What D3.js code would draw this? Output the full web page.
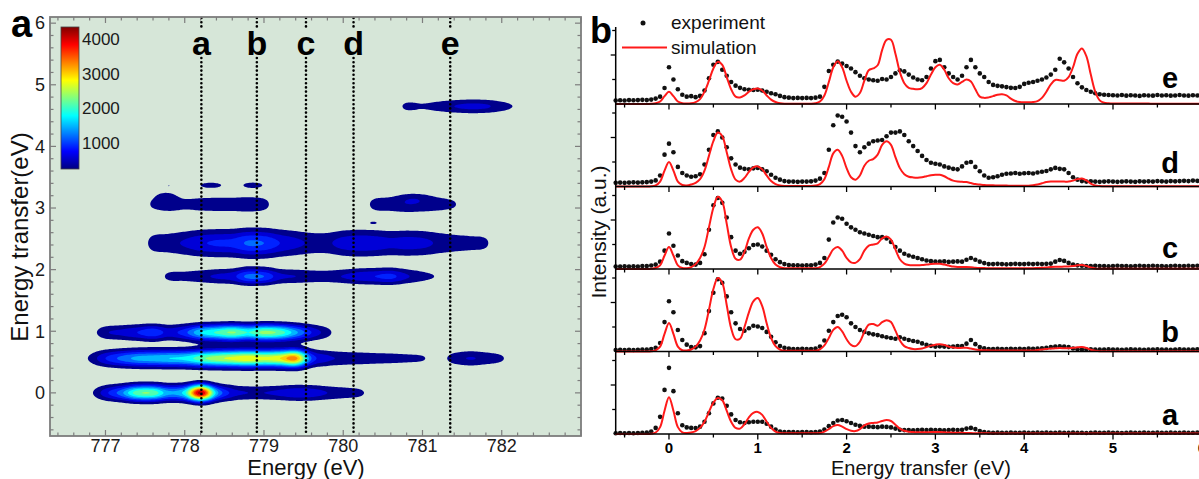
<!DOCTYPE html>
<html>
<head>
<meta charset="utf-8">
<script src="https://cdn.jsdelivr.net/npm/d3@7"></script>
<style>
  body { margin: 0; background: #fff; }
  svg text { font-family: Arial, "Liberation Sans", sans-serif; }
</style>
</head>
<body>
<svg id="chart" width="1199" height="479"></svg>
<script>
// ---------------- (a) RIXS intensity map ----------------
const mapEnergyRange = [776.3, 783.0];
const mapTransferRange = [-0.7, 6.1];
const mapEnergyTicks = [777, 778, 779, 780, 781, 782];
const mapTransferTicks = [0, 1, 2, 3, 4, 5, 6];
const colorRange = [250, 4350];
const colorbarTicks = [1000, 2000, 3000, 4000];
const contourLevels = [300, 600, 900, 1200, 1500, 1800, 2100, 2400, 2700, 3000, 3300, 3600, 3900, 4200];
const cutEnergies = [778.21, 778.91, 779.53, 780.13, 781.35];
const cutNames = ["a", "b", "c", "d", "e"];

// Incident energies at which each loss band's intensity is tabulated
const profileEnergies = [776.6, 776.8, 777.0, 777.2, 777.4, 777.6, 777.8, 778.0, 778.2, 778.4,
  778.6, 778.8, 779.0, 779.2, 779.4, 779.6, 779.8, 780.0, 780.2, 780.4,
  780.6, 780.8, 781.0, 781.2, 781.4, 781.6, 781.8, 782.0, 782.2];

// Energy-loss band positions (eV) and their spread along the loss axis
const bandTransfer = [0.0, 0.56, 0.98, 1.89, 2.43, 3.06, 4.65];
const bandSpread = [0.09, 0.095, 0.09, 0.09, 0.15, 0.11, 0.085];

// Band intensity (counts) versus incident energy
const bandElastic = [0, 200, 800, 1400, 2300, 2350, 1600, 2000, 4350, 1700, 800, 600, 600, 700, 850, 800, 600, 480, 380, 100, 0, 0, 0, 0, 0, 0, 0, 0, 0];
const bandLoss056 = [0, 350, 900, 1300, 1600, 1700, 1800, 1900, 2300, 2600, 2800, 3000, 2800, 3000, 3450, 1200, 700, 550, 500, 450, 420, 380, 330, 150, 450, 620, 500, 340, 0];
const bandLoss098 = [0, 100, 550, 700, 900, 1150, 800, 1100, 1800, 2150, 2450, 2100, 2500, 2300, 1600, 900, 420, 0, 0, 0, 0, 0, 0, 0, 0, 0, 0, 0, 0];
const bandLoss189 = [0, 0, 0, 0, 0, 0, 380, 420, 520, 650, 780, 1300, 1200, 700, 600, 520, 500, 620, 800, 900, 1000, 650, 420, 250, 0, 0, 0, 0, 0];
const bandLoss243 = [0, 0, 0, 0, 0, 420, 500, 650, 850, 950, 1000, 1250, 1200, 900, 700, 550, 550, 750, 850, 800, 700, 750, 700, 550, 450, 400, 340, 0, 0];
const bandLoss306 = [0, 0, 0, 0, 0, 350, 480, 400, 450, 480, 480, 520, 420, 0, 0, 0, 0, 0, 0, 420, 480, 560, 520, 450, 330, 0, 0, 0, 0];
const bandLoss465 = [0, 0, 0, 0, 0, 0, 0, 0, 0, 0, 0, 0, 0, 0, 0, 0, 0, 0, 0, 0, 0, 380, 340, 450, 600, 700, 650, 450, 250];

// Small isolated features: [incident energy, energy transfer, spread E, spread T, counts]
const weakSpots = [
  [778.33, 3.37, 0.12, 0.038, 520],
  [778.86, 3.37, 0.11, 0.040, 520],
  [777.80, 3.36, 0.02, 0.012, 360],
  [780.38, 2.76, 0.04, 0.018, 380],
  [777.76, 3.20, 0.10, 0.060, 250],
  [780.90, 3.17, 0.15, 0.060, 220]
];

// ---------------- (b) spectra at cuts a–e ----------------
const spectrumStart = -0.6;
const spectrumStep = 0.05;
const transferRange = [-0.6, 6.0];
const transferTicks = [0, 1, 2, 3, 4, 5, 6];
const panelNames = ["e", "d", "c", "b", "a"];

const experimentE = [
  0.14,0.15,0.14,0.16,0.15,0.16,0.17,0.16,0.18,0.22,
  0.30,0.65,1.50,1.00,0.60,0.38,0.30,0.32,0.28,0.33,
  0.55,1.05,1.60,1.72,1.40,1.15,0.90,0.75,0.66,0.60,
  0.58,0.57,0.58,0.55,0.50,0.44,0.40,0.33,0.28,0.26,
  0.24,0.25,0.24,0.25,0.24,0.26,0.30,0.70,1.35,1.60,
  1.73,1.65,1.55,1.45,1.30,1.15,1.05,1.00,0.97,0.95,
  1.02,1.00,1.10,1.25,1.38,1.33,1.20,1.08,1.00,0.97,
  1.10,1.45,1.75,1.80,1.50,1.25,1.10,1.00,1.15,1.50,
  1.80,1.50,1.25,1.10,0.90,0.78,0.74,0.72,0.69,0.66,
  0.65,0.70,0.82,0.87,0.90,0.95,1.00,1.08,1.20,1.40,
  1.85,1.70,1.45,1.10,0.85,0.68,0.57,0.50,0.44,0.40,
  0.38,0.37,0.36,0.35,0.37,0.34,0.36,0.35,0.33,0.36,
  0.35,0.34,0.37,0.35,0.36,0.34,0.35,0.37,0.35,0.34,
  0.36,0.35,0.34];
const simulationE = [
  0,0,0,0,0,0,0,0,0.01,0.03,
  0.10,0.32,0.50,0.32,0.10,0.03,0.02,0.03,0.08,0.20,
  0.50,0.95,1.45,1.72,1.60,1.10,0.60,0.30,0.27,0.35,
  0.50,0.60,0.63,0.55,0.35,0.18,0.08,0.03,0.01,0.01,
  0.01,0.01,0.01,0.01,0.01,0.03,0.10,0.35,0.90,1.50,
  1.75,1.50,0.95,0.50,0.30,0.45,0.95,1.38,1.45,1.58,
  2.20,2.62,2.62,2.05,1.30,0.85,0.66,0.62,0.60,0.65,
  0.85,1.20,1.50,1.60,1.40,1.05,0.85,0.80,0.90,1.00,
  0.92,0.60,0.30,0.25,0.27,0.32,0.38,0.40,0.35,0.22,
  0.12,0.08,0.07,0.07,0.08,0.12,0.25,0.50,0.80,0.98,
  0.97,0.95,1.10,1.50,2.05,2.27,1.95,1.20,0.50,0.15,
  0.05,0.03,0.02,0.02,0.02,0.02,0.02,0.02,0.02,0.02,
  0.02,0.01,0.01,0.01,0.01,0.01,0.01,0.01,0.01,0.01,
  0.01,0.01,0.01];

const experimentD = [
  0.15,0.16,0.15,0.16,0.17,0.16,0.17,0.18,0.20,0.25,
  0.45,1.30,1.75,1.40,0.80,0.55,0.45,0.40,0.42,0.50,
  0.90,1.50,2.10,2.25,2.00,1.60,1.15,0.90,0.77,0.72,
  0.70,0.74,0.76,0.70,0.62,0.48,0.36,0.28,0.22,0.20,
  0.20,0.19,0.20,0.20,0.21,0.24,0.32,0.55,1.50,2.50,
  2.90,2.85,2.65,2.20,1.65,1.40,1.60,1.75,1.85,1.88,
  1.90,2.05,2.20,2.20,2.25,2.10,1.85,1.65,1.45,1.25,
  1.08,0.97,0.93,0.90,0.82,0.77,0.72,0.70,0.82,0.97,
  1.00,0.80,0.62,0.45,0.36,0.38,0.42,0.48,0.52,0.53,
  0.55,0.52,0.54,0.55,0.53,0.57,0.60,0.63,0.70,0.76,
  0.72,0.70,0.55,0.38,0.28,0.22,0.20,0.21,0.20,0.19,
  0.20,0.21,0.20,0.19,0.20,0.21,0.20,0.19,0.21,0.20,
  0.21,0.20,0.22,0.21,0.20,0.22,0.21,0.22,0.23,0.22,
  0.24,0.23,0.25];
const simulationD = [
  0,0,0,0,0,0,0,0,0.01,0.05,
  0.20,0.65,1.00,0.65,0.20,0.06,0.04,0.08,0.15,0.30,
  0.65,1.25,1.85,2.20,2.05,1.40,0.70,0.28,0.20,0.35,
  0.60,0.78,0.82,0.70,0.45,0.22,0.10,0.04,0.02,0.02,
  0.02,0.02,0.02,0.02,0.02,0.04,0.10,0.30,0.80,1.35,
  1.50,1.25,0.75,0.38,0.28,0.45,0.85,1.05,1.12,1.30,
  1.70,1.85,1.70,1.20,0.75,0.50,0.40,0.37,0.36,0.38,
  0.42,0.46,0.48,0.48,0.42,0.32,0.24,0.20,0.19,0.18,
  0.14,0.10,0.08,0.06,0.05,0.05,0.04,0.04,0.04,0.03,
  0.03,0.03,0.03,0.03,0.05,0.08,0.13,0.18,0.20,0.20,
  0.20,0.20,0.20,0.24,0.30,0.33,0.25,0.12,0.04,0.02,
  0.01,0.01,0.01,0.01,0.01,0.01,0.01,0.01,0.01,0.01,
  0.01,0.01,0.01,0.01,0.01,0.01,0.01,0.01,0.01,0.01,
  0.01,0.01,0.01];

const experimentC = [
  0.10,0.10,0.11,0.10,0.11,0.10,0.12,0.12,0.14,0.18,
  0.30,0.75,1.45,0.95,0.55,0.32,0.25,0.20,0.18,0.25,
  0.60,1.60,2.60,2.90,2.70,2.10,1.30,0.75,0.62,0.70,
  0.85,0.98,1.00,0.92,0.75,0.58,0.40,0.28,0.20,0.16,
  0.15,0.15,0.14,0.15,0.15,0.18,0.25,0.45,1.20,1.90,
  2.10,2.05,1.85,1.70,1.60,1.50,1.45,1.40,1.35,1.30,
  1.30,1.25,1.10,0.90,0.75,0.62,0.55,0.50,0.45,0.40,
  0.35,0.32,0.30,0.30,0.31,0.29,0.30,0.31,0.30,0.38,
  0.45,0.38,0.30,0.24,0.20,0.20,0.21,0.20,0.19,0.20,
  0.21,0.20,0.20,0.21,0.20,0.21,0.20,0.21,0.22,0.30,
  0.37,0.33,0.25,0.18,0.15,0.13,0.12,0.12,0.13,0.12,
  0.12,0.11,0.12,0.13,0.12,0.12,0.11,0.12,0.13,0.12,
  0.12,0.13,0.12,0.12,0.11,0.12,0.13,0.12,0.12,0.13,
  0.12,0.13,0.12];
const simulationC = [
  0,0,0,0,0,0,0,0,0.01,0.04,
  0.15,0.55,0.90,0.55,0.15,0.04,0.03,0.08,0.20,0.45,
  0.90,1.70,2.50,2.95,2.75,1.85,0.90,0.42,0.38,0.70,
  1.25,1.60,1.70,1.45,0.90,0.45,0.18,0.07,0.03,0.03,
  0.03,0.03,0.03,0.03,0.03,0.03,0.08,0.22,0.50,0.80,
  0.90,0.75,0.45,0.27,0.25,0.40,0.75,0.95,1.00,1.05,
  1.25,1.33,1.20,0.80,0.40,0.22,0.16,0.15,0.15,0.16,
  0.18,0.20,0.21,0.21,0.18,0.14,0.10,0.08,0.08,0.08,
  0.07,0.05,0.04,0.04,0.03,0.03,0.03,0.03,0.03,0.03,
  0.03,0.03,0.03,0.03,0.03,0.04,0.05,0.06,0.08,0.09,
  0.09,0.10,0.10,0.12,0.15,0.16,0.12,0.06,0.02,0.01,
  0.01,0.01,0.01,0.01,0.01,0.01,0.01,0.01,0.01,0.01,
  0.01,0.01,0.01,0.01,0.01,0.01,0.01,0.01,0.01,0.01,
  0.01,0.01,0.01];

const experimentB = [
  0.06,0.07,0.06,0.07,0.06,0.07,0.08,0.08,0.10,0.15,
  0.35,1.20,2.05,1.60,0.88,0.47,0.28,0.18,0.17,0.22,
  0.75,1.65,2.40,2.95,2.80,2.25,1.60,1.15,0.92,0.85,
  0.95,1.05,1.02,0.96,0.80,0.60,0.38,0.22,0.15,0.12,
  0.10,0.10,0.11,0.10,0.10,0.12,0.20,0.45,0.85,1.20,
  1.45,1.50,1.40,1.15,1.00,0.88,0.80,0.74,0.70,0.67,
  0.62,0.58,0.55,0.52,0.58,0.52,0.47,0.43,0.40,0.33,
  0.27,0.23,0.20,0.21,0.20,0.19,0.20,0.22,0.22,0.32,
  0.47,0.30,0.18,0.13,0.10,0.10,0.11,0.10,0.10,0.11,
  0.10,0.11,0.10,0.12,0.11,0.12,0.13,0.15,0.18,0.20,
  0.21,0.20,0.18,0.12,0.09,0.08,0.08,0.09,0.08,0.08,
  0.08,0.09,0.08,0.08,0.07,0.08,0.09,0.08,0.08,0.07,
  0.08,0.08,0.09,0.08,0.08,0.07,0.08,0.09,0.08,0.08,
  0.08,0.09,0.08];
const simulationB = [
  0,0,0,0,0,0,0,0,0.01,0.05,
  0.20,0.72,1.16,0.72,0.20,0.05,0.04,0.08,0.20,0.45,
  0.90,1.70,2.55,3.00,2.80,1.90,0.95,0.50,0.52,1.00,
  1.60,2.05,2.18,1.85,1.15,0.55,0.22,0.08,0.03,0.03,
  0.03,0.03,0.03,0.03,0.03,0.03,0.09,0.25,0.55,0.88,
  1.00,0.82,0.50,0.27,0.22,0.40,0.80,1.10,1.12,1.05,
  1.20,1.28,1.20,0.85,0.45,0.22,0.14,0.10,0.10,0.12,
  0.18,0.24,0.28,0.30,0.27,0.20,0.16,0.14,0.15,0.15,
  0.12,0.08,0.06,0.05,0.05,0.04,0.04,0.04,0.04,0.04,
  0.04,0.04,0.04,0.04,0.04,0.06,0.08,0.10,0.12,0.13,
  0.14,0.13,0.13,0.15,0.17,0.18,0.14,0.07,0.03,0.01,
  0.01,0.01,0.01,0.01,0.01,0.01,0.01,0.01,0.01,0.01,
  0.01,0.01,0.01,0.01,0.01,0.01,0.01,0.01,0.01,0.01,
  0.01,0.01,0.01];

const experimentA = [
  0.03,0.04,0.03,0.04,0.03,0.04,0.05,0.06,0.10,0.25,
  0.70,1.80,2.70,1.75,0.85,0.36,0.27,0.25,0.24,0.30,
  0.50,0.85,1.25,1.48,1.45,1.15,0.80,0.57,0.48,0.45,
  0.48,0.50,0.50,0.50,0.42,0.30,0.18,0.10,0.08,0.08,
  0.08,0.07,0.08,0.08,0.07,0.08,0.10,0.18,0.32,0.45,
  0.55,0.57,0.52,0.45,0.38,0.33,0.30,0.30,0.29,0.28,
  0.30,0.29,0.27,0.22,0.17,0.16,0.16,0.15,0.16,0.17,
  0.16,0.17,0.16,0.16,0.15,0.16,0.17,0.16,0.17,0.22,
  0.25,0.20,0.12,0.08,0.06,0.05,0.06,0.05,0.05,0.06,
  0.05,0.05,0.06,0.05,0.05,0.06,0.05,0.06,0.05,0.05,
  0.06,0.05,0.05,0.06,0.05,0.05,0.04,0.05,0.06,0.05,
  0.05,0.06,0.05,0.05,0.04,0.05,0.06,0.05,0.05,0.06,
  0.05,0.05,0.06,0.05,0.05,0.06,0.05,0.05,0.06,0.05,
  0.05,0.06,0.05];
const simulationA = [
  0,0,0,0,0,0,0,0,0.01,0.06,
  0.28,0.95,1.50,0.95,0.28,0.07,0.04,0.06,0.12,0.25,
  0.50,0.90,1.28,1.47,1.38,0.95,0.50,0.25,0.22,0.40,
  0.68,0.86,0.90,0.78,0.50,0.25,0.10,0.04,0.03,0.03,
  0.03,0.03,0.03,0.03,0.03,0.03,0.04,0.10,0.20,0.32,
  0.37,0.30,0.20,0.13,0.12,0.20,0.35,0.43,0.45,0.47,
  0.53,0.57,0.53,0.38,0.22,0.13,0.09,0.08,0.07,0.07,
  0.07,0.08,0.08,0.08,0.07,0.06,0.05,0.05,0.05,0.04,
  0.04,0.03,0.03,0.03,0.03,0.02,0.02,0.02,0.02,0.02,
  0.02,0.02,0.02,0.02,0.02,0.02,0.02,0.02,0.02,0.02,
  0.02,0.02,0.02,0.02,0.02,0.02,0.02,0.02,0.02,0.02,
  0.02,0.02,0.02,0.02,0.02,0.02,0.02,0.02,0.02,0.02,
  0.02,0.02,0.02,0.02,0.02,0.02,0.02,0.02,0.02,0.02,
  0.02,0.02,0.02];

// =========================================================
const svg = d3.select("#chart");

// MATLAB-style jet colour map
function jet(t) {
  t = Math.max(0, Math.min(1, t));
  const c = v => Math.round(255 * Math.max(0, Math.min(1, v)));
  return `rgb(${c(1.5 - Math.abs(4 * t - 3))},${c(1.5 - Math.abs(4 * t - 2))},${c(1.5 - Math.abs(4 * t - 1))})`;
}
const colorPos = d3.scaleLinear().domain(colorRange).range([0, 1]);

// ---------- map frame ----------
const mapBox = { left: 50, right: 581, top: 17, bottom: 436 };
const mapX = d3.scaleLinear().domain(mapEnergyRange).range([mapBox.left, mapBox.right]);
const mapY = d3.scaleLinear().domain(mapTransferRange).range([mapBox.bottom, mapBox.top]);

svg.append("defs").append("clipPath").attr("id", "mapClip")
  .append("rect").attr("x", mapBox.left).attr("y", mapBox.top)
  .attr("width", mapBox.right - mapBox.left).attr("height", mapBox.bottom - mapBox.top);

svg.append("rect")
  .attr("x", mapBox.left).attr("y", mapBox.top)
  .attr("width", mapBox.right - mapBox.left).attr("height", mapBox.bottom - mapBox.top)
  .attr("fill", "#d6e6d8");

// Build the intensity grid from the band table
function profileAt(vals, e) {
  const step = profileEnergies[1] - profileEnergies[0];
  const u = (e - profileEnergies[0]) / step;
  const k = Math.floor(u);
  if (k < 0 || k >= vals.length - 1) return 0;
  const t = u - k;
  const p0 = vals[Math.max(k - 1, 0)], p1 = vals[k], p2 = vals[k + 1], p3 = vals[Math.min(k + 2, vals.length - 1)];
  const v = 0.5 * (2 * p1 + (-p0 + p2) * t + (2 * p0 - 5 * p1 + 4 * p2 - p3) * t * t + (-p0 + 3 * p1 - 3 * p2 + p3) * t * t * t);
  return Math.max(0, v);
}
const bandProfiles = [bandElastic, bandLoss056, bandLoss098, bandLoss189, bandLoss243, bandLoss306, bandLoss465];
const dE = 0.02, dT = 0.01;
const nx = Math.round((mapEnergyRange[1] - mapEnergyRange[0]) / dE) + 1;
const ny = Math.round((mapTransferRange[1] - mapTransferRange[0]) / dT) + 1;
const grid = new Float64Array(nx * ny);
bandProfiles.forEach((vals, b) => {
  const prof = d3.range(nx).map(i => profileAt(vals, mapEnergyRange[0] + i * dE));
  const s2 = 2 * bandSpread[b] * bandSpread[b];
  for (let j = 0; j < ny; j++) {
    const d = mapTransferRange[0] + j * dT - bandTransfer[b];
    const g = Math.exp(-d * d / s2);
    if (g < 1e-4) continue;
    for (let i = 0; i < nx; i++) grid[j * nx + i] += prof[i] * g;
  }
});
weakSpots.forEach(([e0, t0, se, st, amp]) => {
  for (let j = 0; j < ny; j++) {
    const dt = mapTransferRange[0] + j * dT - t0;
    const gt = Math.exp(-dt * dt / (2 * st * st));
    if (gt < 1e-4) continue;
    for (let i = 0; i < nx; i++) {
      const de = mapEnergyRange[0] + i * dE - e0;
      grid[j * nx + i] += amp * gt * Math.exp(-de * de / (2 * se * se));
    }
  }
});

const contours = d3.contours().size([nx, ny]).thresholds(contourLevels)(grid);
const gridProjection = d3.geoTransform({
  point(x, y) {
    this.stream.point(mapX(mapEnergyRange[0] + (x - 0.5) * dE), mapY(mapTransferRange[0] + (y - 0.5) * dT));
  }
});
const contourPath = d3.geoPath(gridProjection);
svg.append("g").attr("clip-path", "url(#mapClip)")
  .selectAll("path").data(contours).join("path")
  .attr("d", contourPath)
  .attr("fill", d => jet(colorPos(d.value)))
  .attr("stroke", "none");

// Cut positions a–e
const cutTop = mapBox.top + 1, cutBreak = [29, 58];
const cuts = svg.append("g");
cutEnergies.forEach((e, i) => {
  const x = mapX(e);
  [[cutTop, cutBreak[0]], [cutBreak[1], mapBox.bottom - 1]].forEach(([y1, y2]) => {
    cuts.append("line").attr("x1", x).attr("x2", x).attr("y1", y1).attr("y2", y2)
      .attr("stroke", "#000").attr("stroke-width", 2.6)
      .attr("stroke-linecap", "round").attr("stroke-dasharray", "0,4.2");
  });
  cuts.append("text").attr("x", x).attr("y", 55).attr("text-anchor", "middle")
    .attr("font-size", 34).attr("font-weight", "bold").attr("fill", "#000").text(cutNames[i]);
});

// Frame and ticks on all four sides (inward)
const frameColor = "#7d7d7d";
const ticksG = svg.append("g").attr("stroke", frameColor).attr("stroke-width", 1.2);
const xMinor = d3.range(776.4, 783.0, 0.2).map(v => +v.toFixed(1));
xMinor.forEach(v => {
  const major = Math.abs(v - Math.round(v)) < 1e-6;
  const len = major ? 6 : 3.5;
  const x = mapX(v);
  ticksG.append("line").attr("x1", x).attr("x2", x).attr("y1", mapBox.bottom).attr("y2", mapBox.bottom - len);
  ticksG.append("line").attr("x1", x).attr("x2", x).attr("y1", mapBox.top).attr("y2", mapBox.top + len);
});
const yMinor = d3.range(-0.6, 6.1, 0.2).map(v => +v.toFixed(1));
yMinor.forEach(v => {
  const major = Math.abs(v - Math.round(v)) < 1e-6;
  const len = major ? 6 : 3.5;
  const y = mapY(v);
  ticksG.append("line").attr("x1", mapBox.left).attr("x2", mapBox.left + len).attr("y1", y).attr("y2", y);
  ticksG.append("line").attr("x1", mapBox.right).attr("x2", mapBox.right - len).attr("y1", y).attr("y2", y);
});
svg.append("rect")
  .attr("x", mapBox.left).attr("y", mapBox.top)
  .attr("width", mapBox.right - mapBox.left).attr("height", mapBox.bottom - mapBox.top)
  .attr("fill", "none").attr("stroke", frameColor).attr("stroke-width", 1.8);

// Tick labels
svg.append("g").selectAll("text").data(mapEnergyTicks).join("text")
  .attr("x", d => mapX(d)).attr("y", 452).attr("text-anchor", "middle")
  .attr("font-size", 18).attr("fill", "#1a1a1a").text(d => d);
svg.append("g").selectAll("text").data(mapTransferTicks).join("text")
  .attr("x", 45).attr("y", d => mapY(d)).attr("dy", "0.35em").attr("text-anchor", "end")
  .attr("font-size", 18).attr("fill", "#1a1a1a").text(d => d);

svg.append("text").attr("x", 306).attr("y", 474.5).attr("text-anchor", "middle")
  .attr("font-size", 22).attr("fill", "#111").text("Energy (eV)");
svg.append("text").attr("transform", "translate(28,237) rotate(-90)").attr("text-anchor", "middle")
  .attr("font-size", 24).attr("fill", "#111").text("Energy transfer(eV)");
svg.append("text").attr("x", 11).attr("y", 37).attr("font-size", 38).attr("font-weight", "bold")
  .attr("fill", "#000").text("a");

// Colour bar
const cbar = { x: 61, w: 18, top: 27, bottom: 169 };
const cbY = d3.scaleLinear().domain(colorRange).range([cbar.bottom, cbar.top]);
const grad = svg.select("defs").append("linearGradient").attr("id", "jetGrad")
  .attr("x1", 0).attr("x2", 0).attr("y1", 1).attr("y2", 0);
d3.range(0, 1.0001, 0.025).forEach(t => {
  grad.append("stop").attr("offset", t).attr("stop-color", jet(t));
});
svg.append("rect").attr("x", cbar.x).attr("y", cbar.top).attr("width", cbar.w)
  .attr("height", cbar.bottom - cbar.top).attr("fill", "url(#jetGrad)")
  .attr("stroke", "#444").attr("stroke-width", 0.8);
svg.append("g").selectAll("text").data(colorbarTicks).join("text")
  .attr("x", cbar.x + cbar.w + 3).attr("y", d => cbY(d)).attr("dy", "0.35em")
  .attr("font-size", 17).attr("fill", "#1a1a1a").text(d => d);

// ---------------- (b) stacked spectra ----------------
const specX = d3.scaleLinear().domain(transferRange).range([615.7, 1201.8]);
const panelTop = 21.5, panelHeight = 82.5, unitPx = 24.5;
const spectra = [
  { exp: experimentE, sim: simulationE },
  { exp: experimentD, sim: simulationD },
  { exp: experimentC, sim: simulationC },
  { exp: experimentB, sim: simulationB },
  { exp: experimentA, sim: simulationA }
];
const labelRaise = [16, 13.5, 11, 9.5, 9];
const specEnergy = d3.range(experimentA.length).map(i => +(spectrumStart + i * spectrumStep).toFixed(2));
const xTickVals = d3.range(-0.5, 6.01, 0.5).map(v => +v.toFixed(1));

spectra.forEach((s, p) => {
  const bottom = panelTop + (p + 1) * panelHeight;
  const y = d3.scaleLinear().domain([0, panelHeight / unitPx]).range([bottom, bottom - panelHeight]);
  const g = svg.append("g");

  g.selectAll("circle").data(s.exp).join("circle")
    .attr("cx", (d, i) => specX(specEnergy[i])).attr("cy", d => y(d))
    .attr("r", 2.3).attr("fill", "#111");

  const line = d3.line().x((d, i) => specX(specEnergy[i])).y(d => y(d))
    .curve(d3.curveCatmullRom.alpha(0.5));
  g.append("path").attr("d", line(s.sim)).attr("fill", "none")
    .attr("stroke", "#ff1a1a").attr("stroke-width", 2);

  // bottom axis with outward ticks
  g.append("line").attr("x1", specX(transferRange[0])).attr("x2", 1199)
    .attr("y1", bottom).attr("y2", bottom).attr("stroke", "#000").attr("stroke-width", 1.5);
  xTickVals.forEach(v => {
    const major = Number.isInteger(v);
    g.append("line").attr("x1", specX(v)).attr("x2", specX(v))
      .attr("y1", bottom).attr("y2", bottom + (major ? 5.5 : 3.5))
      .attr("stroke", "#000").attr("stroke-width", 1.3);
  });
  // intensity ticks on the left
  [1, 2, 3].forEach(v => {
    const yy = y(v);
    if (yy < 26) return;
    g.append("line").attr("x1", specX(transferRange[0])).attr("x2", specX(transferRange[0]) - (v % 2 === 0 ? 5 : 3.5))
      .attr("y1", yy).attr("y2", yy).attr("stroke", "#000").attr("stroke-width", 1.3);
  });

  g.append("text").attr("x", 1170).attr("y", bottom - labelRaise[p]).attr("text-anchor", "middle")
    .attr("font-size", 29).attr("font-weight", "bold").attr("fill", "#000").text(panelNames[p]);
});

svg.append("line").attr("x1", specX(transferRange[0])).attr("x2", specX(transferRange[0]))
  .attr("y1", 27).attr("y2", panelTop + 5 * panelHeight)
  .attr("stroke", "#000").attr("stroke-width", 1.5);

svg.append("g").selectAll("text").data(transferTicks).join("text")
  .attr("x", d => specX(d)).attr("y", 453).attr("text-anchor", "middle")
  .attr("font-size", 15).attr("font-weight", "bold").attr("fill", "#000").text(d => d);

svg.append("text").attr("x", 921).attr("y", 475).attr("text-anchor", "middle")
  .attr("font-size", 20).attr("fill", "#111").text("Energy transfer (eV)");
svg.append("text").attr("transform", "translate(606,232) rotate(-90)").attr("text-anchor", "middle")
  .attr("font-size", 21).attr("fill", "#111").text("Intensity (a.u.)");
svg.append("text").attr("x", 590).attr("y", 43).attr("font-size", 36).attr("font-weight", "bold")
  .attr("fill", "#000").text("b");

// Legend
const legend = svg.append("g");
legend.append("circle").attr("cx", 643).attr("cy", 23).attr("r", 2.5).attr("fill", "#111");
legend.append("text").attr("x", 671).attr("y", 29).attr("font-size", 19).attr("fill", "#111").text("experiment");
legend.append("line").attr("x1", 622).attr("x2", 667).attr("y1", 47.5).attr("y2", 47.5)
  .attr("stroke", "#ff1a1a").attr("stroke-width", 2);
legend.append("text").attr("x", 671).attr("y", 54).attr("font-size", 19).attr("fill", "#111").text("simulation");
</script>
</body>
</html>
